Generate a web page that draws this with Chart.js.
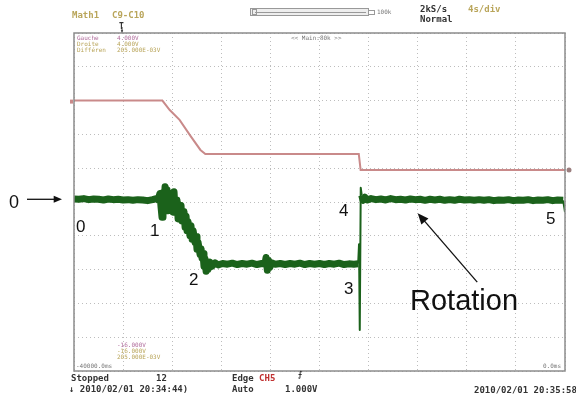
<!DOCTYPE html>
<html>
<head>
<meta charset="utf-8">
<script src="https://cdn.jsdelivr.net/npm/chart.js@4.4.0/dist/chart.umd.min.js"></script>
<style>
body { margin: 0; background: #fff; }
#wrap { position: relative; width: 576px; height: 397px; overflow: hidden; background: #fff; }
#wrap canvas { position: absolute; left: 0; top: 0; }
.t { position: absolute; white-space: nowrap; line-height: 1; }
.scope { font-family: "DejaVu Sans Mono", "Liberation Mono", monospace; font-weight: bold; font-size: 9px; color: #333; }
.tiny { font-family: "DejaVu Sans Mono", monospace; font-size: 6px; color: #777; }
.olive { color: #b9a55a; }
.plum { color: #b06c9c; }
.note { font-family: "Liberation Sans", Arial, sans-serif; color: #111; }
</style>
</head>
<body>
<div id="wrap">
    <canvas id="scope-chart" width="576" height="397"></canvas>

    <!-- header -->
    <div class="t scope olive" style="left:72px;top:11px;">Math1</div>
    <div class="t scope olive" style="left:112px;top:11px;">C9-C10</div>
    <div class="t scope" style="left:119px;top:23px;font-size:8px;">T</div>
    <div class="t tiny" style="left:377px;top:9px;">100k</div>
    <div class="t scope" style="left:420px;top:5px;">2kS/s</div>
    <div class="t scope olive" style="left:468px;top:5px;">4s/div</div>
    <div class="t scope" style="left:420px;top:15px;">Normal</div>

    <!-- inside the grid -->
    <div class="t tiny plum" style="left:77px;top:35px;">Gauche</div>
    <div class="t tiny plum" style="left:117px;top:35px;">4.000V</div>
    <div class="t tiny olive" style="left:77px;top:41px;">Droite</div>
    <div class="t tiny olive" style="left:117px;top:41px;">4.000V</div>
    <div class="t tiny olive" style="left:77px;top:47px;">Différen</div>
    <div class="t tiny olive" style="left:117px;top:47px;">205.000E-03V</div>
    <div class="t tiny" style="left:291px;top:35px;">&lt;&lt; Main:80k &gt;&gt;</div>
    <div class="t tiny plum" style="left:117px;top:342px;">-16.000V</div>
    <div class="t tiny olive" style="left:117px;top:348px;">-16.000V</div>
    <div class="t tiny olive" style="left:117px;top:354px;">205.000E-03V</div>
    <div class="t tiny" style="left:76px;top:363px;">-40000.0ms</div>
    <div class="t tiny" style="left:543px;top:363px;">0.0ms</div>

    <!-- status line -->
    <div class="t scope" style="left:71px;top:374px;">Stopped</div>
    <div class="t scope" style="left:156px;top:374px;">12</div>
    <div class="t scope" style="left:232px;top:374px;">Edge <span style="color:#c03030;">CH5</span></div>
    <div class="t scope" style="left:298px;top:371px;font-size:8px;">&#x2A0D;</div>
    <div class="t scope" style="left:69px;top:385px;">&#x2193; 2010/02/01 20:34:44)</div>
    <div class="t scope" style="left:232px;top:385px;">Auto</div>
    <div class="t scope" style="left:285px;top:385px;">1.000V</div>
    <div class="t scope" style="left:474px;top:386px;">2010/02/01 20:35:58</div>

    <!-- annotations -->
    <div class="t note" style="left:9px;top:193px;font-size:18px;">0</div>
    <div class="t note" style="left:76px;top:218px;font-size:17px;">0</div>
    <div class="t note" style="left:150px;top:222px;font-size:17px;">1</div>
    <div class="t note" style="left:189px;top:271px;font-size:17px;">2</div>
    <div class="t note" style="left:344px;top:280px;font-size:17px;">3</div>
    <div class="t note" style="left:339px;top:202px;font-size:17px;">4</div>
    <div class="t note" style="left:546px;top:210px;font-size:17px;">5</div>
    <div class="t note" style="left:410px;top:286px;font-size:29px;">Rotation</div>
</div>

<script>
"use strict";

// time axis in ms, levels in screen divisions (0 = bottom line, 10 = top line)
var timeTicks = [-40000, -36000, -32000, -28000, -24000, -20000, -16000, -12000, -8000, -4000, 0];
var levelTicks = [0, 1, 2, 3, 4, 5, 6, 7, 8, 9, 10];

// pink trace (upper)
var redTime = [-40000, -32800, -32200, -31400, -30500, -29700, -29300, -16800, -16650, 0];
var redLevel = [8.00, 8.00, 7.72, 7.43, 6.95, 6.54, 6.42, 6.42, 5.95, 5.95];

// green trace (noisy)
var greenTime = [
    -40000, -39600, -39200, -38800, -38400, -38000, -37600, -37200, -36800, -36400,
    -36000, -35600, -35200, -34800, -34400, -34000, -33600, -33300,
    -33150, -33000, -32900, -32830, -32750, -32660, -32580, -32500, -32420, -32340,
    -32180, -32100, -32010, -31930, -31850, -31770, -31610, -31520, -31440, -31360,
    -31280, -31200, -31040, -30950, -30870, -30790, -30710, -30550, -30470, -30380,
    -30300, -30140, -30060, -29980, -29900, -29730, -29650, -29570, -29490, -29410,
    -29320, -29240, -29160, -29080, -28920, -28750, -28500, -28250,
    -27900, -27500, -27100, -26700, -26300, -25900, -25500, -25100, -24700, -24450,
    -24350, -24250, -24150, -24050, -23900,
    -23600, -23200, -22800, -22400, -22000, -21600, -21200, -20800, -20400, -20000,
    -19600, -19200, -18800, -18400, -18000, -17600, -17200, -16850,
    -16780, -16720, -16640, -16560, -16450, -16300, -16100,
    -15800, -15400, -15000, -14600, -14200, -13800, -13400, -13000, -12600, -12200,
    -11800, -11400, -11000, -10600, -10200, -9800, -9400, -9000, -8600, -8200,
    -7800, -7400, -7000, -6600, -6200, -5800, -5400, -5000, -4600, -4200,
    -3800, -3400, -3000, -2600, -2200, -1800, -1400, -1000, -600, -150, 0
];
var greenLevel = [
    5.09, 5.08, 5.10, 5.07, 5.09, 5.08, 5.06, 5.09, 5.07, 5.08,
    5.06, 5.07, 5.05, 5.07, 5.06, 5.04, 5.07, 5.10,
    5.06, 5.25, 4.82, 4.55, 5.28, 5.00, 5.45, 4.88, 5.36, 4.74,
    5.26, 4.82, 5.16, 4.70, 5.30, 4.78, 5.06, 4.50, 4.88, 4.54,
    4.90, 4.44, 4.72, 4.25, 4.58, 4.15, 4.42, 4.00, 4.30, 3.90,
    4.16, 3.80, 3.98, 3.60, 3.82, 3.45, 3.62, 3.34, 3.48, 3.10,
    3.32, 2.95, 3.22, 3.00, 3.22, 3.10, 3.20, 3.14,
    3.18, 3.16, 3.19, 3.15, 3.18, 3.16, 3.19, 3.15, 3.18, 3.16,
    3.36, 2.98, 3.28, 3.06, 3.20,
    3.16, 3.18, 3.15, 3.18, 3.16, 3.19, 3.15, 3.18, 3.16, 3.18,
    3.15, 3.18, 3.16, 3.19, 3.15, 3.17, 3.16, 3.17,
    3.75, 1.21, 5.42, 5.20, 5.05, 5.14, 5.06,
    5.10, 5.07, 5.09, 5.06, 5.10, 5.07, 5.08, 5.06, 5.09, 5.07,
    5.08, 5.05, 5.08, 5.06, 5.08, 5.05, 5.07, 5.05, 5.08, 5.06,
    5.07, 5.05, 5.07, 5.05, 5.07, 5.04, 5.06, 5.05, 5.07, 5.04,
    5.06, 5.05, 5.07, 5.04, 5.06, 5.05, 5.07, 5.04, 5.06, 5.05, 4.70
];

// "0 ->" marks the starting level of the green trace
var zeroLevel = 5.08;
// "Rotation" arrow: tail and head in data units
var rotationTail = [-7150, 2.63];
var rotationHead = [-12000, 4.67];
// the step at point 3 is drawn thin
var thinFrom = -16900;
var thinTo = -16600;

var toPoints = function (xs, ys) {
    return xs.map(function (x, i) { return { x: x, y: ys[i] }; });
};

var drawArrow = function (ctx, x1, y1, x2, y2, head) {
    var ang = Math.atan2(y2 - y1, x2 - x1);
    ctx.beginPath();
    ctx.moveTo(x1, y1);
    ctx.lineTo(x2 - Math.cos(ang) * head * 0.6, y2 - Math.sin(ang) * head * 0.6);
    ctx.stroke();
    ctx.beginPath();
    ctx.moveTo(x2, y2);
    ctx.lineTo(x2 - head * Math.cos(ang - 0.4), y2 - head * Math.sin(ang - 0.4));
    ctx.lineTo(x2 - head * Math.cos(ang + 0.4), y2 - head * Math.sin(ang + 0.4));
    ctx.closePath();
    ctx.fill();
};

/* frame, markers and arrows on top of the traces */
var scopeDecor = {
    id: 'scopeDecor',
    afterDraw: function (chart) {
        var ctx = chart.ctx;
        var a = chart.chartArea;
        var xs = chart.scales.x;
        var ys = chart.scales.y;
        ctx.save();

        ctx.strokeStyle = '#8c8c8c';
        ctx.lineWidth = 1.5;
        ctx.strokeRect(a.left, a.top, a.right - a.left, a.bottom - a.top);

        // trace end markers
        ctx.fillStyle = '#9c7f7f';
        ctx.beginPath();
        ctx.arc(a.right + 4, ys.getPixelForValue(redLevel[redLevel.length - 1]), 2.5, 0, Math.PI * 2);
        ctx.fill();
        ctx.fillStyle = '#c98a8a';
        ctx.fillRect(a.left - 4, ys.getPixelForValue(redLevel[0]) - 1, 3, 4);

        // trigger mark under the "T"
        ctx.strokeStyle = '#333';
        ctx.lineWidth = 1;
        ctx.fillStyle = '#333';
        drawArrow(ctx, 122, 27, 122, 33, 3);

        // record length bar at the top
        ctx.strokeStyle = '#999';
        ctx.fillStyle = '#eee';
        ctx.fillRect(250, 8, 118, 8);
        ctx.strokeRect(250.5, 8.5, 118, 7);
        ctx.beginPath();
        ctx.moveTo(255, 12.5);
        ctx.lineTo(366, 12.5);
        ctx.stroke();
        ctx.strokeRect(368.5, 10.5, 6, 4);
        ctx.strokeRect(252.5, 9.5, 4, 5);

        // annotation arrows
        ctx.strokeStyle = '#111';
        ctx.fillStyle = '#111';
        ctx.lineWidth = 1.3;
        var y0 = ys.getPixelForValue(zeroLevel);
        drawArrow(ctx, 27, y0, a.left - 12, y0, 9);
        drawArrow(ctx,
            xs.getPixelForValue(rotationTail[0]), ys.getPixelForValue(rotationTail[1]),
            xs.getPixelForValue(rotationHead[0]), ys.getPixelForValue(rotationHead[1]), 12);

        ctx.restore();
    }
};

var ctxScope = document.getElementById('scope-chart');
var scopeChart = new Chart(ctxScope, {
    type: 'line',
    data: {
        datasets: [
            {
                label: 'C9-C10',
                data: toPoints(redTime, redLevel),
                borderColor: '#c98a8a',
                borderWidth: 2,
                pointRadius: 0,
                tension: 0
            },
            {
                label: 'CH5',
                data: toPoints(greenTime, greenLevel),
                borderColor: '#1b621b',
                borderWidth: 7,
                borderJoinStyle: 'round',
                pointRadius: 0,
                tension: 0,
                segment: {
                    borderWidth: function (c) {
                        var x0 = c.p0.parsed.x;
                        if ((x0 > thinFrom && x0 < thinTo) || c.p1.parsed.x === 0) {
                            return 2;
                        }
                        return 7;
                    }
                }
            }
        ]
    },
    options: {
        responsive: false,
        animation: false,
        devicePixelRatio: 1,
        layout: { padding: { left: 74, top: 33, right: 11, bottom: 26 } },
        plugins: { legend: { display: false }, tooltip: { enabled: false } },
        scales: {
            x: {
                type: 'linear',
                min: timeTicks[0],
                max: timeTicks[timeTicks.length - 1],
                afterBuildTicks: function (scale) {
                    scale.ticks = timeTicks.map(function (v) { return { value: v }; });
                },
                ticks: { display: false },
                grid: { color: '#bdbdbd', lineWidth: 1, drawTicks: false },
                border: { display: false, dash: [1, 3] }
            },
            y: {
                type: 'linear',
                min: levelTicks[0],
                max: levelTicks[levelTicks.length - 1],
                afterBuildTicks: function (scale) {
                    scale.ticks = levelTicks.map(function (v) { return { value: v }; });
                },
                ticks: { display: false },
                grid: { color: '#bdbdbd', lineWidth: 1, drawTicks: false },
                border: { display: false, dash: [1, 3] }
            }
        }
    },
    plugins: [scopeDecor]
});
</script>
</body>
</html>
